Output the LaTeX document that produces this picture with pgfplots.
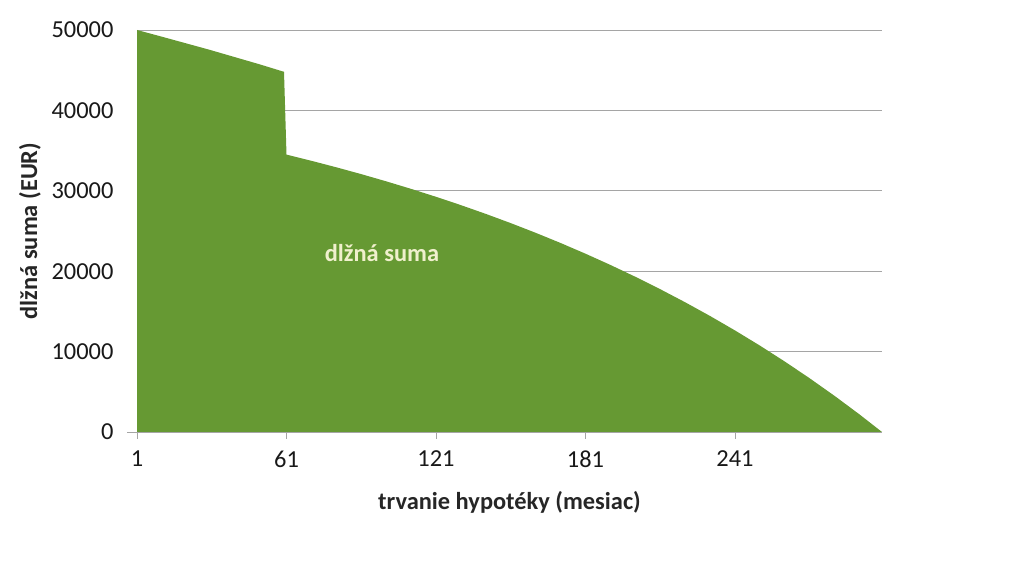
\documentclass[border=0pt]{standalone}
\usepackage{fontspec}
\setmainfont{Carlito}
\usepackage{pgfplots}
\pgfplotsset{compat=1.18}
\definecolor{areagreen}{RGB}{102,153,51}
\definecolor{gridgray}{RGB}{165,165,165}
\definecolor{labelcream}{RGB}{240,240,205}
\begin{document}
\begin{tikzpicture}
\useasboundingbox (0,0) rectangle (1024bp,568bp);
\begin{axis}[
  at={(137bp,136bp)}, anchor=south west,
  scale only axis, width=745bp, height=402bp,
  xmin=1, xmax=300, ymin=0, ymax=50000,
  axis x line*=bottom,
  axis y line*=left,
  x axis line style={draw=gridgray, line width=0.8bp, -},
  y axis line style={draw=none},
  ymajorgrids, grid style={gridgray, line width=0.8bp},
  xtick={1,61,121,181,241},
  ytick={0,10000,20000,30000,40000,50000},
  xtick style={gridgray, line width=0.8bp},
  ytick style={draw=none},
  xtick align=outside, major tick length=7bp,
  scaled y ticks=false,
  typeset ticklabels with strut,
  /pgf/number format/assume math mode=true,
  yticklabel={\pgfmathprintnumber[fixed,1000 sep={}]{\tick}},
  xticklabel={\pgfmathprintnumber[fixed,1000 sep={}]{\tick}},
  tick label style={font=\fontsize{24.5}{26}\selectfont, text=black!90},
  y tick label style={xshift=-20bp},
  x tick label style={yshift=-8bp},
  xlabel={trvanie hypotéky (mesiac)},
  ylabel={dlžná suma (EUR)},
  every axis x label/.style={at={(axis description cs:0.5,-0.174)}, anchor=center, font=\fontsize{24.5}{26}\selectfont\bfseries, text=black!85},
  every axis y label/.style={at={(axis description cs:-0.1436,0.5)}, anchor=center, rotate=90, font=\fontsize{24.5}{26}\selectfont\bfseries, text=black!85},
  clip=false,
]
\addplot[fill=areagreen, draw=none] coordinates {
  (1,50000) (10,49250) (20,48400) (30,47550) (40,46650) (50,45750) (60,44800)
  (61,34500) (71,33731) (81,32922) (91,32073) (101,31179) (111,30240)
  (121,29254) (131,28216) (141,27126) (151,25980) (161,24775) (171,23508)
  (181,22177) (191,20778) (201,19307) (211,17761) (221,16136) (231,14428)
  (241,12632) (251,10745) (261,8761) (271,6675) (281,4484) (291,2179) (300,0)
  (1,0)
} \closedcycle;
\draw[gridgray, line width=0.8bp] (axis cs:1,0) -- ++(-8bp,0);
\node[font=\fontsize{24.5}{26}\selectfont\bfseries, text=labelcream] at (axis cs:99.3,22290) {dlžná suma};
\end{axis}
\end{tikzpicture}
\end{document}
